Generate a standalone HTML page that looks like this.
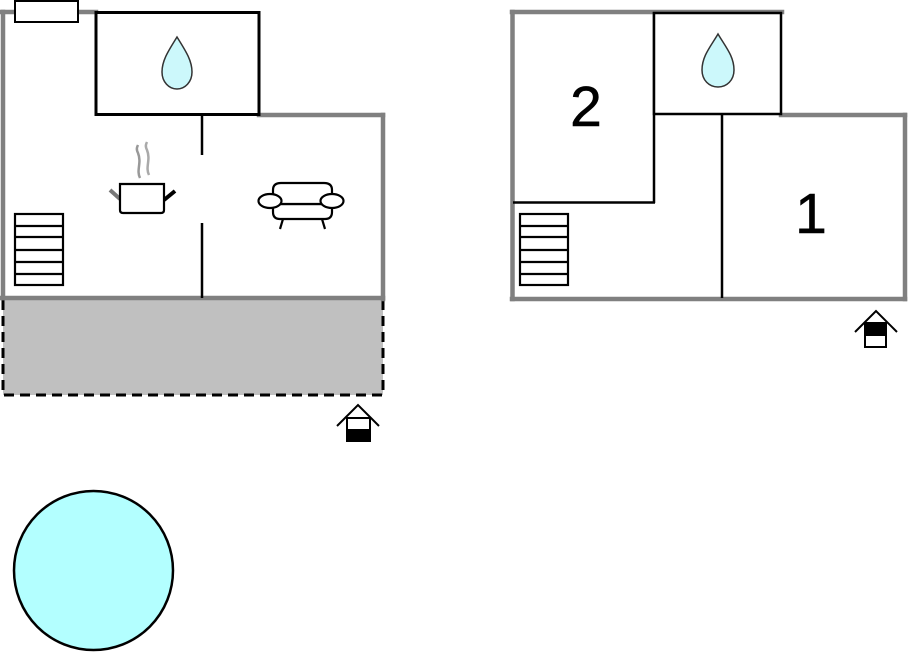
<!DOCTYPE html>
<html><head><meta charset="utf-8"><style>
html,body{margin:0;padding:0;background:#fff;}
svg{display:block;}
</style></head><body>
<svg width="908" height="652" viewBox="0 0 908 652" xmlns="http://www.w3.org/2000/svg">
<!-- LEFT PLAN -->
<!-- terrace -->
<rect x="3" y="300" width="380" height="95" fill="#c0c0c0"/>
<path d="M3 300 V395 H383 V300" fill="none" stroke="#000" stroke-width="3" stroke-dasharray="10,6"/>
<!-- gray walls -->
<g stroke="#808080" stroke-width="4.5" fill="none" stroke-linecap="square">
<line x1="1" y1="12" x2="96" y2="12"/>
<line x1="3" y1="12" x2="3" y2="298"/>
<line x1="259" y1="115" x2="383" y2="115"/>
<line x1="383" y1="115" x2="383" y2="299"/>
<line x1="2" y1="298" x2="383" y2="298"/>
</g>
<!-- bathroom -->
<rect x="96" y="12.5" width="163" height="102" fill="#fff" stroke="#000" stroke-width="3"/>
<path d="M177 37 C169 50 162 60 162 72 C162 82 169 89 177 89 C185 89 192 82 192 72 C192 60 185 50 177 37 Z" fill="#ccf8fb" stroke="#333" stroke-width="1.5"/>
<!-- chimney -->
<rect x="15" y="1" width="63" height="21" fill="#fff" stroke="#000" stroke-width="2"/>
<!-- interior wall -->
<line x1="202" y1="114" x2="202" y2="155" stroke="#000" stroke-width="2.5"/>
<line x1="202" y1="223" x2="202" y2="298" stroke="#000" stroke-width="2.5"/>
<!-- stairs left -->
<g stroke="#000" stroke-width="2.2" fill="#fff">
<rect x="15" y="214" width="48" height="71"/>
<line x1="15" y1="226" x2="63" y2="226"/>
<line x1="15" y1="237" x2="63" y2="237"/>
<line x1="15" y1="250" x2="63" y2="250"/>
<line x1="15" y1="262" x2="63" y2="262"/>
<line x1="15" y1="274" x2="63" y2="274"/>
</g>
<!-- pot -->
<g fill="none">
<path d="M140 178 C136 170 142 163 138 153 C136 149 137 147 138 145" stroke="#999" stroke-width="2.5"/>
<path d="M149 175 C145 167 151 160 147 150 C145 146 146 144 147 142" stroke="#aaa" stroke-width="2.5"/>
<line x1="110" y1="190" x2="120" y2="199" stroke="#777" stroke-width="4"/>
<line x1="164" y1="200" x2="175" y2="191" stroke="#000" stroke-width="4"/>
<path d="M120 184 H164 V210 Q164 213 161 213 H123 Q120 213 120 210 Z" fill="#fff" stroke="#000" stroke-width="2.2"/>
</g>
<!-- sofa -->
<g fill="#fff" stroke="#000" stroke-width="2.2">
<line x1="283" y1="219" x2="280" y2="229"/>
<line x1="322" y1="219" x2="325" y2="229"/>
<path d="M273 204 V212 Q273 219 280 219 H325 Q332 219 332 212 V204 Z"/>
<path d="M273 204 V190 Q273 183 281 183 H324 Q332 183 332 190 V204 Z"/>
<ellipse cx="270" cy="201" rx="11.5" ry="7"/>
<ellipse cx="332" cy="201" rx="11.5" ry="7"/>
</g>
<!-- entry left -->
<g stroke="#000" stroke-width="2" fill="none">
<polyline points="337,426 358,405 379,426"/>
<rect x="347" y="418" width="23" height="23" fill="#fff"/>
<rect x="347" y="430" width="23" height="11" fill="#000"/>
</g>

<!-- RIGHT PLAN -->
<g stroke="#808080" stroke-width="4.5" fill="none" stroke-linecap="square">
<line x1="512" y1="12" x2="782" y2="12"/>
<line x1="512.5" y1="12" x2="512.5" y2="299"/>
<line x1="512" y1="299" x2="905" y2="299"/>
<line x1="905" y1="115" x2="905" y2="299"/>
<line x1="781" y1="115" x2="905" y2="115"/>
</g>
<g stroke="#000" stroke-width="2.5" fill="none">
<line x1="654" y1="12" x2="654" y2="203"/>
<line x1="513" y1="202.5" x2="655" y2="202.5"/>
<line x1="722" y1="114" x2="722" y2="298"/>
</g>
<rect x="654" y="13" width="127" height="101" fill="#fff" stroke="#000" stroke-width="2.5"/>
<path d="M718 34 C711 46 702 56 702 70 C702 80 709 87 718 87 C727 87 734 80 734 70 C734 56 725 46 718 34 Z" fill="#ccf8fb" stroke="#333" stroke-width="1.5"/>
<text x="586" y="126" font-family="Liberation Sans, sans-serif" font-size="57" text-anchor="middle" fill="#000" stroke="#000" stroke-width="0.6">2</text>
<text x="811" y="233" font-family="Liberation Sans, sans-serif" font-size="57" text-anchor="middle" fill="#000" stroke="#000" stroke-width="0.6">1</text>
<!-- stairs right -->
<g stroke="#000" stroke-width="2.2" fill="#fff">
<rect x="520" y="214" width="48" height="71"/>
<line x1="520" y1="226" x2="568" y2="226"/>
<line x1="520" y1="237" x2="568" y2="237"/>
<line x1="520" y1="250" x2="568" y2="250"/>
<line x1="520" y1="262" x2="568" y2="262"/>
<line x1="520" y1="274" x2="568" y2="274"/>
</g>
<!-- entry right -->
<g stroke="#000" stroke-width="2" fill="none">
<polyline points="855,332 876,311 897,332"/>
<rect x="865" y="323" width="21" height="24" fill="#fff"/>
<rect x="865" y="323" width="21" height="12" fill="#000"/>
</g>

<!-- pool -->
<circle cx="93.5" cy="570.5" r="79.5" fill="#b3ffff" stroke="#000" stroke-width="2.5"/>
</svg>
</body></html>
